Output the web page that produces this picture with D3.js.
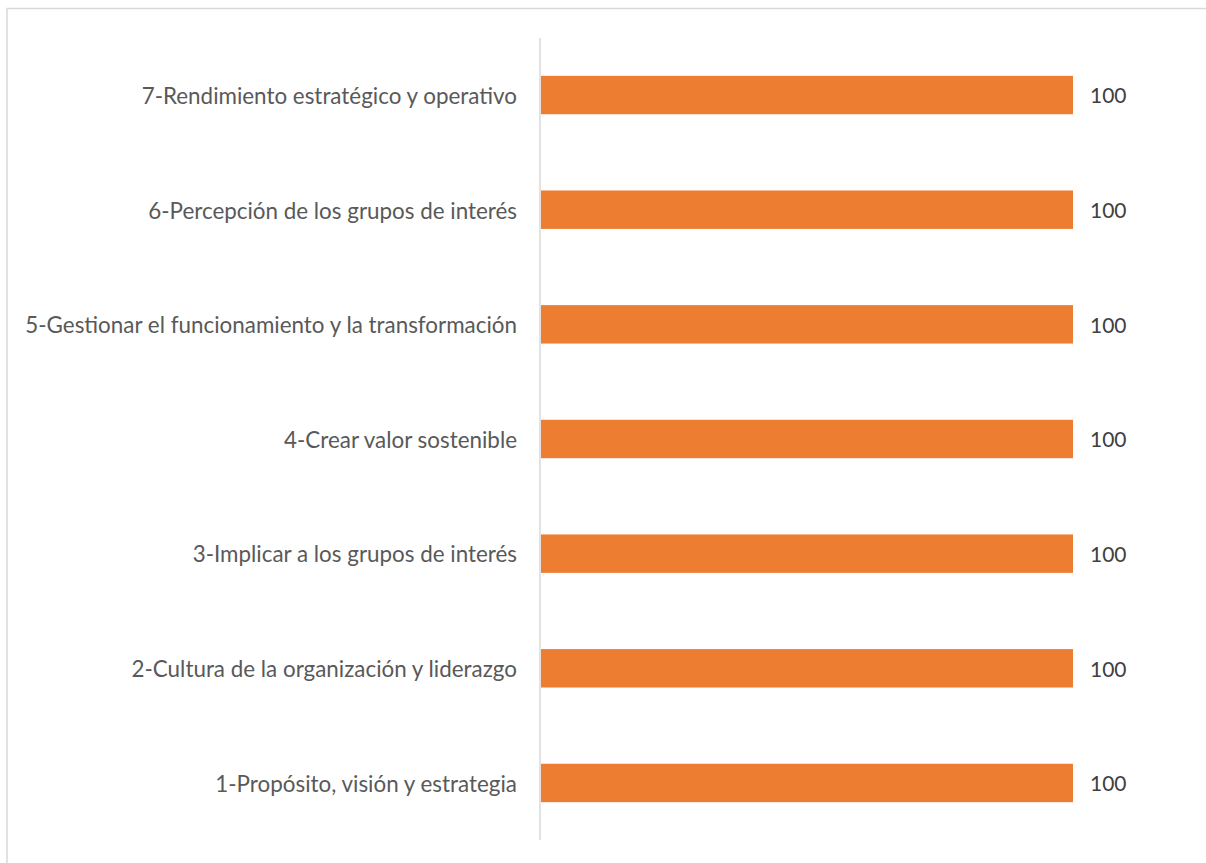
<!DOCTYPE html>
<html><head><meta charset="utf-8">
<script src="https://cdn.jsdelivr.net/npm/d3@7/dist/d3.min.js"></script>
<style>body{margin:0;background:#fff;}svg{display:block;}</style>
</head><body>
<svg id="c" width="1206" height="863"></svg>
<script>
const categories = [
  "7-Rendimiento estratégico y operativo",
  "6-Percepción de los grupos de interés",
  "5-Gestionar el funcionamiento y la transformación",
  "4-Crear valor sostenible",
  "3-Implicar a los grupos de interés",
  "2-Cultura de la organización y liderazgo",
  "1-Propósito, visión y estrategia"
];
const values = [100, 100, 100, 100, 100, 100, 100];

const svg = d3.select("#c");
svg.append("rect").attr("x", 7).attr("y", 8.5).attr("width", 1210).attr("height", 900)
  .attr("fill", "none").attr("stroke", "#d9d9d9").attr("stroke-width", 1.5);

const x = d3.scaleLinear().domain([0, 100]).range([541, 1073]);
const y = d3.scaleBand().domain(categories).range([38, 840]).paddingInner(0.665).paddingOuter(0.33);

svg.selectAll("rect.bar").data(values).enter().append("rect").attr("class", "bar")
  .attr("x", x(0)).attr("y", (d, i) => y(categories[i]))
  .attr("width", d => x(d) - x(0)).attr("height", y.bandwidth())
  .attr("fill", "#ed7d31");

svg.append("line").attr("x1", 540).attr("x2", 540).attr("y1", 38).attr("y2", 840)
  .attr("stroke", "#d9d9d9").attr("stroke-width", 1.5);

const cats = svg.selectAll("text.cat").data(categories).enter().append("text").attr("class", "cat")
  .attr("x", 517).attr("y", d => y(d) + y.bandwidth() / 2 + 1)
  .attr("dy", "0.35em").attr("text-anchor", "end")
  .attr("font-family", "Lato, 'Open Sans', sans-serif").attr("font-size", 22)
  .attr("fill", "#595959").text(d => d);
// fit the longest label to its reference width
cats.each(function () {
  const w = this.getComputedTextLength();
  if (this.textContent.startsWith("5-")) {
    const f = 22 * 492 / w;
    cats.attr("font-size", f);
  }
});

svg.selectAll("text.val").data(values).enter().append("text").attr("class", "val")
  .attr("x", d => x(d) + 17).attr("y", (d, i) => y(categories[i]) + y.bandwidth() / 2 + 1)
  .attr("dy", "0.35em")
  .attr("font-family", "Lato, 'Open Sans', sans-serif").attr("font-size", 21)
  .attr("fill", "#404040").text(d => d);
</script>
</body></html>
